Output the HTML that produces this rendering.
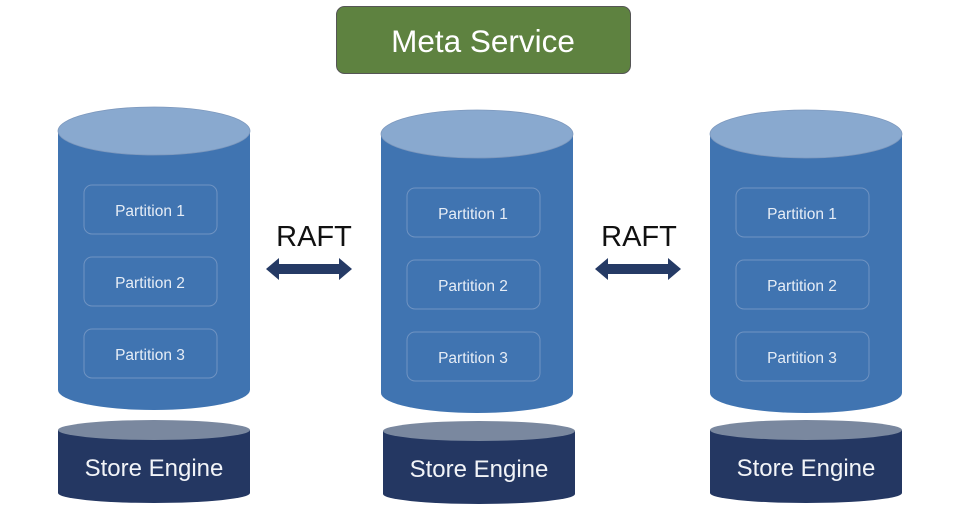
<!DOCTYPE html>
<html><head><meta charset="utf-8"><style>
html,body{margin:0;padding:0;background:#fff;width:969px;height:526px;overflow:hidden}
text{font-family:"Liberation Sans","DejaVu Sans",sans-serif}
</style></head><body>
<svg width="969" height="526" viewBox="0 0 969 526" xmlns="http://www.w3.org/2000/svg">
<defs>
<g id="cyl">
  <path d="M0,24 L0,283 A96,20 0 0 0 192,283 L192,24 Z" fill="#4074b1"/>
  <ellipse cx="96" cy="24" rx="96" ry="24" fill="#89a9cf" stroke="#7d98bd" stroke-width="0.8"/>
  <rect x="26" y="78" width="133" height="49" rx="8" fill="none" stroke="#6f93c2" stroke-width="1"/>
  <rect x="26" y="150" width="133" height="49" rx="8" fill="none" stroke="#6f93c2" stroke-width="1"/>
  <rect x="26" y="222" width="133" height="49" rx="8" fill="none" stroke="#6f93c2" stroke-width="1"/>
  <text x="92" y="109" font-size="15.5" fill="#e6edf6" text-anchor="middle">Partition 1</text>
  <text x="92" y="181" font-size="15.5" fill="#e6edf6" text-anchor="middle">Partition 2</text>
  <text x="92" y="253" font-size="15.5" fill="#e6edf6" text-anchor="middle">Partition 3</text>
</g>
<g id="store">
  <path d="M0,10 L0,73 A96,10 0 0 0 192,73 L192,10 Z" fill="#243762"/>
  <ellipse cx="96" cy="10" rx="96" ry="10" fill="#7a889f"/>
  <text x="96" y="56" font-size="24" fill="#f2f4f8" text-anchor="middle">Store Engine</text>
</g>
<g id="arr">
  <polygon points="0,11 13,0 13,6 73,6 73,0 86,11 73,22 73,16 13,16 13,22" fill="#253a65"/>
</g>
</defs>
<rect x="336.5" y="6.5" width="294" height="67" rx="8" fill="#5e8240" stroke="#555" stroke-width="1"/>
<text x="483" y="52" font-size="31.5" fill="#ffffff" text-anchor="middle">Meta Service</text>

<use href="#cyl" x="58" y="107"/>
<use href="#cyl" x="381" y="110"/>
<use href="#cyl" x="710" y="110"/>
<use href="#store" x="58" y="420"/>
<use href="#store" x="383" y="421"/>
<use href="#store" x="710" y="420"/>

<text x="314" y="246" font-size="29" fill="#111" text-anchor="middle">RAFT</text>
<use href="#arr" x="266" y="258"/>
<text x="639" y="246" font-size="29" fill="#111" text-anchor="middle">RAFT</text>
<use href="#arr" x="595" y="258"/>
</svg>
</body></html>
